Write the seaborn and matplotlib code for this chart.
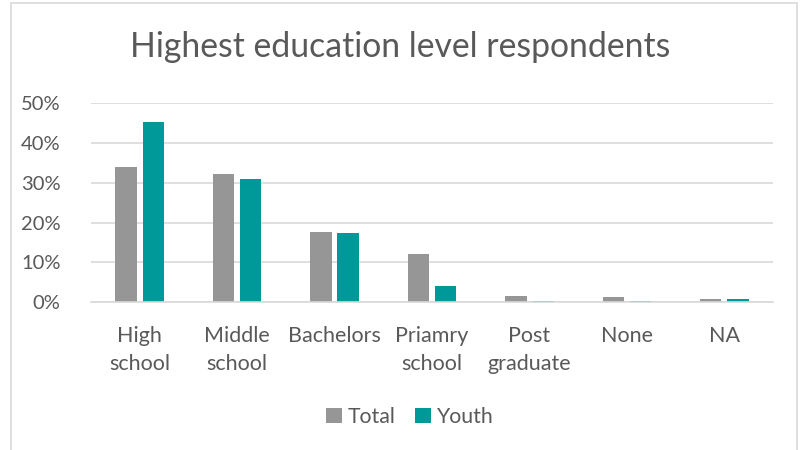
import matplotlib
matplotlib.use("Agg")
import matplotlib.pyplot as plt
import seaborn as sns
import pandas as pd
from matplotlib.ticker import PercentFormatter
from matplotlib.patches import Rectangle, Patch

categories = ["High\nschool", "Middle\nschool", "Bachelors", "Priamry\nschool", "Post\ngraduate", "None", "NA"]
total = [0.339, 0.321, 0.175, 0.121, 0.014, 0.0125, 0.007]
youth = [0.454, 0.309, 0.174, 0.040, 0.003, 0.003, 0.007]
series = ["Total", "Youth"]
colors = {"Total": "#969696", "Youth": "#009999"}

df = pd.DataFrame({
    "category": categories * 2,
    "value": total + youth,
    "series": ["Total"] * len(categories) + ["Youth"] * len(categories),
})

sns.set_theme(style="white")
plt.rcParams["font.family"] = ["Lato", "DejaVu Sans"]

fig = plt.figure(figsize=(8, 4.5), dpi=100)
ax = fig.add_axes([91 / 800, 1 - 302 / 450, (773 - 91) / 800, (302 - 103.3) / 450])

sns.barplot(data=df, x="category", y="value", hue="series", palette=colors,
            width=0.556, gap=0.21, ax=ax, legend=False, edgecolor="none", linewidth=0,
            saturation=1)

ax.set_ylim(0, 0.5)
ax.set_xlim(-0.5, len(categories) - 0.5)
ax.set_yticks([0, 0.1, 0.2, 0.3, 0.4, 0.5])
ax.yaxis.set_major_formatter(PercentFormatter(1.0, decimals=0))
ax.grid(axis="y", color="#d9d9d9", linewidth=1.2)
ax.set_axisbelow(True)
for s in ["top", "right", "left"]:
    ax.spines[s].set_visible(False)
ax.spines["bottom"].set_color("#d9d9d9")
ax.spines["bottom"].set_linewidth(1.2)
ax.set_xlabel("")
ax.set_ylabel("")
ax.tick_params(axis="both", length=0, colors="#595959")
ax.tick_params(axis="x", pad=17, labelsize=15.5)
ax.tick_params(axis="y", pad=22, labelsize=14.5)
for lbl in ax.get_xticklabels():
    lbl.set_linespacing(1.55)

fig.text(0.5, 1 - 47 / 450, "Highest education level respondents", ha="center", va="center",
         fontsize=24.3, color="#595959")

handles = [Patch(facecolor=colors[s], edgecolor="none", label=s) for s in series]
fig.legend(handles=handles, loc="center", bbox_to_anchor=(410 / 800, 1 - 417 / 450), ncol=2,
           frameon=False, handlelength=0.75, handleheight=0.75, handletextpad=0.3,
           columnspacing=0.9, fontsize=15.3, labelcolor="#595959")

fig.add_artist(Rectangle((11 / 800, -0.05), (797 - 11) / 800, 1.05 - 3 / 450,
                         transform=fig.transFigure, fill=False, edgecolor="#d9d9d9", linewidth=1.2))

fig.savefig("out.png", dpi=100, facecolor="white")
